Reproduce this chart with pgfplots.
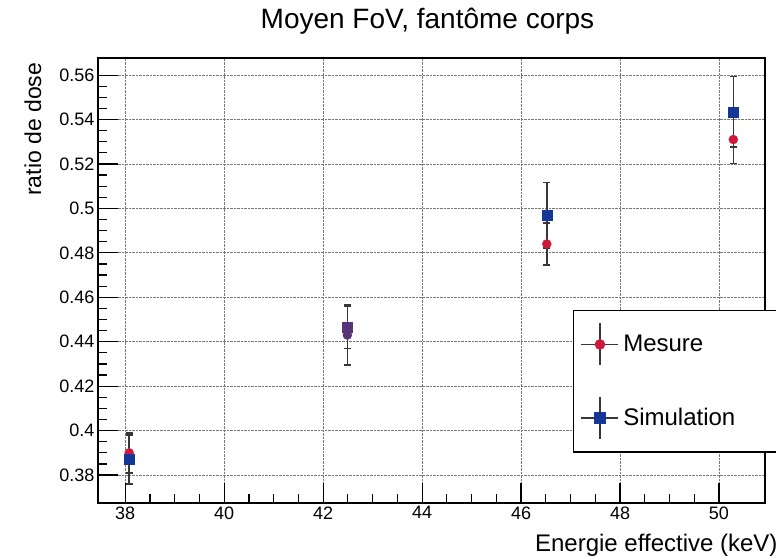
\documentclass[border=0pt]{standalone}
\usepackage{pgfplots}
\pgfplotsset{compat=1.18}
\usepackage{pgfplotstable}
\usepackage{fontspec}
\setmainfont{Liberation Sans}
\definecolor{mred}{RGB}{205,25,60}
\definecolor{mblue}{RGB}{20,55,150}
\definecolor{mpurple}{RGB}{88,52,118}
\definecolor{barcol}{RGB}{55,55,55}
\definecolor{gridcol}{RGB}{120,120,120}

\pgfplotstableread{
x y e c
38.08 0.3900 0.0090 n
42.49 0.4430 0.0135 p
46.52 0.4840 0.0095 n
50.29 0.5310 0.0108 n
}\mesure

\pgfplotstableread{
x y e c
38.08 0.3870 0.0110 n
42.49 0.4465 0.0095 p
46.52 0.4970 0.0147 n
50.29 0.5435 0.0158 n
}\simul

\begin{document}
\begin{tikzpicture}
\path[use as bounding box] (-98pt,-54pt) rectangle (678pt,503pt);
\begin{axis}[
 scale only axis, width=667pt, height=445pt,
 xmin=37.45, xmax=50.93, ymin=0.3674, ymax=0.5677,
 xtick={38,40,42,44,46,48,50},
 ytick={0.38,0.40,0.42,0.44,0.46,0.48,0.50,0.52,0.54,0.56},
 minor x tick num=3, minor y tick num=3,
 tick align=inside, xtick pos=bottom, ytick pos=left,
 major tick length=20pt, minor tick length=9pt,
 tick style={black, line width=1.2pt},
 axis line style={line width=1.6pt},
 grid=major, major grid style={densely dotted, gridcol, line width=0.9pt},
 /pgf/number format/assume math mode=true,
 ticklabel style={font=\fontsize{18}{18}\selectfont},
 yticklabel style={/pgf/number format/fixed, /pgf/number format/precision=2},
 scaled y ticks=false,
 title={Moyen FoV, fantôme corps},
 title style={at={(axis description cs:0.494,1.07)}, anchor=center, font=\fontsize{28}{28}\selectfont},
 xlabel={Energie effective (keV)},
 xlabel style={at={(axis description cs:1.024,-0.0944)}, anchor=east, font=\fontsize{24}{24}\selectfont},
 ylabel={ratio de dose},
 ylabel style={at={(axis description cs:-0.0975,0.84)}, anchor=center, font=\fontsize{23}{23}\selectfont},
 clip=false,
 legend style={at={(rel axis cs:0.712,0.434)}, anchor=north west, draw=black, line width=1.5pt, fill=white,
   font=\fontsize{24}{24}\selectfont, inner xsep=7pt, inner ysep=12pt, row sep=30pt, column sep=2pt,
   cells={anchor=west}},
]
\addplot[forget plot, only marks, color=mred, mark=*, mark size=4.5pt,
  scatter, scatter src=explicit symbolic,
  scatter/classes={n={mark=*, draw=mred, fill=mred}, p={mark=*, draw=mpurple, fill=mpurple}},
  error bars/.cd, y dir=both, y explicit,
  error bar style={barcol, line width=1.6pt},
  error mark options={rotate=90, barcol, mark size=3.5pt, line width=1.6pt}]
  table[x=x, y=y, y error=e, meta=c]{\mesure};
\addplot[forget plot, only marks, color=mblue, mark=square*, mark size=5pt,
  scatter, scatter src=explicit symbolic,
  scatter/classes={n={mark=square*, draw=mblue, fill=mblue}, p={mark=square*, draw=mpurple, fill=mpurple}},
  error bars/.cd, y dir=both, y explicit,
  error bar style={barcol, line width=1.6pt},
  error mark options={rotate=90, barcol, mark size=3.5pt, line width=1.6pt}]
  table[x=x, y=y, y error=e, meta=c]{\simul};
\addlegendimage{legend image code/.code={
    \draw[barcol, line width=1.6pt] (0pt,0pt) -- (37pt,0pt) (18.5pt,-21pt) -- (18.5pt,21pt);
    \fill[mred] (18.5pt,0pt) circle (4.5pt);
  }}
\addlegendentry{\makebox[155pt][l]{Mesure}}
\addlegendimage{legend image code/.code={
    \draw[barcol, line width=1.6pt] (0pt,0pt) -- (37pt,0pt) (18.5pt,-21pt) -- (18.5pt,21pt);
    \fill[mblue] (13.5pt,-5pt) rectangle (23.5pt,5pt);
  }}
\addlegendentry{\makebox[155pt][l]{Simulation}}
\end{axis}
\end{tikzpicture}
\end{document}
